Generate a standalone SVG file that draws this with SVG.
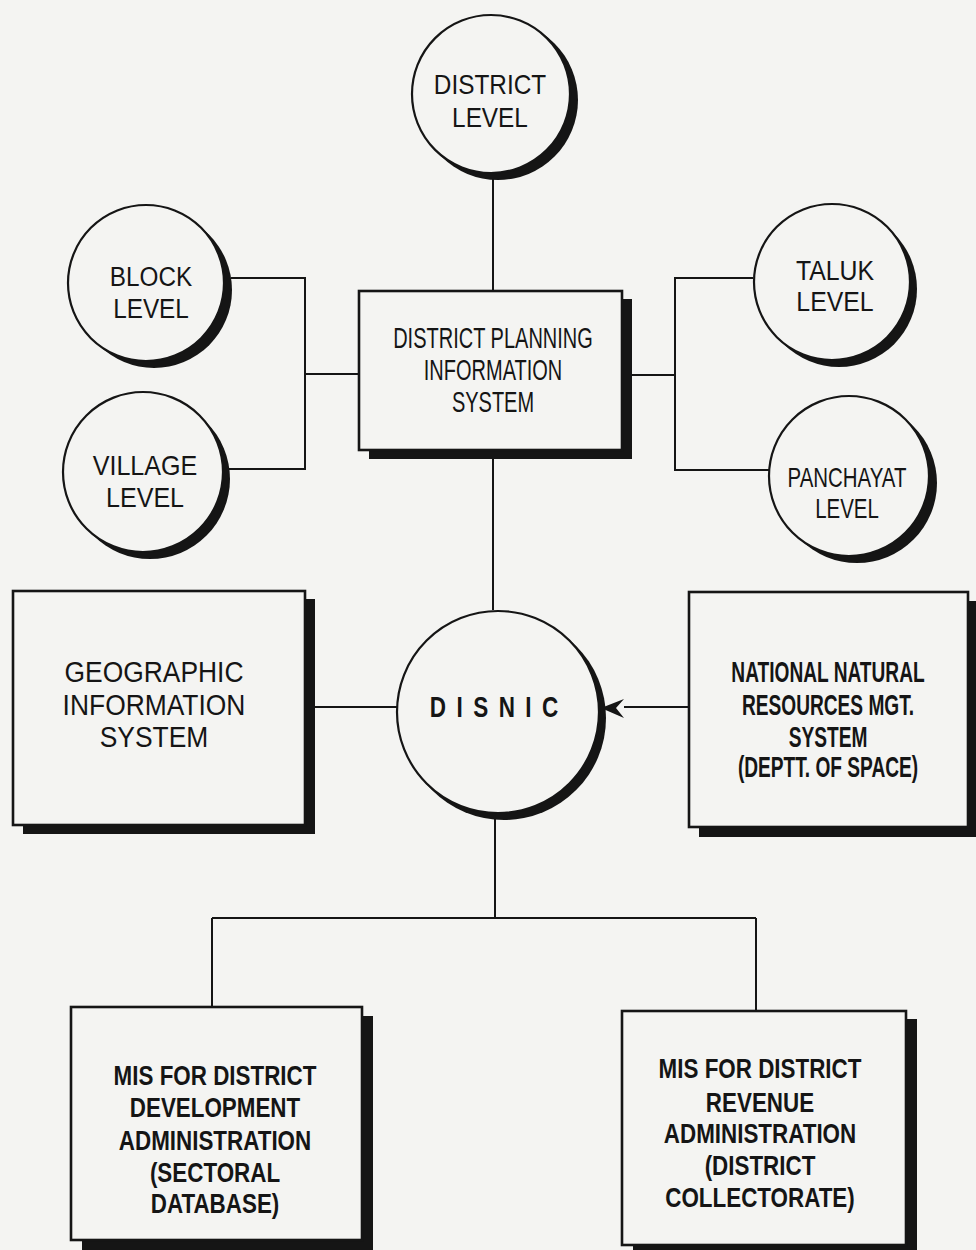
<svg xmlns="http://www.w3.org/2000/svg" width="976" height="1250" viewBox="0 0 976 1250">
<defs>
<style>
.bg{fill:#f4f4f2}
.ln{fill:none;stroke:#151515;stroke-width:2}
.sh{fill:#151515}
.nd{fill:#f4f4f2;stroke:#151515;stroke-width:2.2}
.bx{fill:#f4f4f2;stroke:#151515;stroke-width:2.6}
text{font-family:"Liberation Sans",Arial,sans-serif;fill:#151515;text-anchor:middle}
.r{font-weight:normal}
.b{font-weight:bold}
</style>
<marker id="barb" viewBox="0 0 26 22" refX="1" refY="11" markerWidth="26" markerHeight="22" markerUnits="userSpaceOnUse" orient="auto">
<path d="M24,11 L1,2 L9,11 L1,20 Z" fill="#151515" transform="rotate(180 12.5 11)"/>
</marker>
</defs>
<rect class="bg" x="0" y="0" width="976" height="1250"/>

<g id="connectors">
<path class="ln" d="M493,174 V291"/>
<path class="ln" d="M231,278 H305 V469 H229"/>
<path class="ln" d="M305,374 H359"/>
<path class="ln" d="M753,278 H675 V470 H770"/>
<path class="ln" d="M632,375 H675"/>
<path class="ln" d="M493,450 V610"/>
<path class="ln" d="M305,707 H397"/>
<path class="ln" d="M689,707 H624"/>
<path d="M601,708 L624,699 L616,708 L624,718 Z" fill="#151515"/>
<path class="ln" d="M495,815 V918"/>
<path class="ln" d="M212,918 H756"/>
<path class="ln" d="M212,918 V1007"/>
<path class="ln" d="M756,918 V1011"/>
</g>

<g id="district-level">
<circle class="sh" cx="498" cy="100" r="80"/>
<circle class="nd" cx="491" cy="94" r="79"/>
<g transform="translate(490,0) scale(0.87,1)"><text class="r" x="0" y="94" font-size="28">DISTRICT</text><text class="r" x="0" y="127" font-size="28">LEVEL</text></g>
</g>

<g id="block-level">
<circle class="sh" cx="154" cy="290" r="78"/>
<circle class="nd" cx="146" cy="283" r="78"/>
<g transform="translate(151,0) scale(0.9,1)"><text class="r" x="0" y="286" font-size="27">BLOCK</text><text class="r" x="0" y="318" font-size="27">LEVEL</text></g>
</g>

<g id="village-level">
<circle class="sh" cx="150" cy="479" r="80"/>
<circle class="nd" cx="143" cy="472" r="80"/>
<g transform="translate(145,0) scale(0.93,1)"><text class="r" x="0" y="475" font-size="27">VILLAGE</text><text class="r" x="0" y="507" font-size="27">LEVEL</text></g>
</g>

<g id="taluk-level">
<circle class="sh" cx="839" cy="289" r="78"/>
<circle class="nd" cx="832" cy="282" r="78"/>
<g transform="translate(835,0) scale(0.92,1)"><text class="r" x="0" y="280" font-size="27">TALUK</text><text class="r" x="0" y="311" font-size="27">LEVEL</text></g>
</g>

<g id="panchayat-level">
<circle class="sh" cx="857" cy="483" r="80"/>
<circle class="nd" cx="849" cy="476" r="80"/>
<g transform="translate(847,0) scale(0.73,1)"><text class="r" x="0" y="487" font-size="28">PANCHAYAT</text><text class="r" x="0" y="518" font-size="28">LEVEL</text></g>
</g>

<g id="dpis">
<rect class="sh" x="369" y="299" width="263" height="160"/>
<rect class="bx" x="359" y="291" width="263" height="159"/>
<g transform="translate(493,0) scale(0.69,1)"><text class="r" x="0" y="348" font-size="29">DISTRICT PLANNING</text><text class="r" x="0" y="380" font-size="29">INFORMATION</text><text class="r" x="0" y="412" font-size="29">SYSTEM</text></g>
</g>

<g id="disnic">
<circle class="sh" cx="504" cy="718" r="102"/>
<circle class="nd" cx="498" cy="712" r="101"/>
<g transform="translate(494,0) scale(0.75,1)"><text class="b" x="7" y="717" font-size="30" letter-spacing="14">DISNIC</text></g>
</g>

<g id="gis">
<rect class="sh" x="23" y="599" width="292" height="235"/>
<rect class="bx" x="13" y="591" width="292" height="234"/>
<g transform="translate(154,0) scale(0.88,1)"><text class="r" x="0" y="682" font-size="30">GEOGRAPHIC</text><text class="r" x="0" y="715" font-size="30">INFORMATION</text><text class="r" x="0" y="747" font-size="30">SYSTEM</text></g>
</g>

<g id="nnrms">
<rect class="sh" x="699" y="601" width="279" height="236"/>
<rect class="bx" x="689" y="592" width="279" height="235"/>
<g transform="translate(828,0) scale(0.66,1)"><text class="b" x="0" y="682" font-size="29">NATIONAL NATURAL</text><text class="b" x="0" y="715" font-size="29">RESOURCES MGT.</text><text class="b" x="0" y="747" font-size="29">SYSTEM</text><text class="b" x="0" y="777" font-size="29">(DEPTT. OF SPACE)</text></g>
</g>

<g id="mis-development">
<rect class="sh" x="82" y="1016" width="291" height="234"/>
<rect class="bx" x="71" y="1007" width="291" height="233"/>
<g transform="translate(215,0) scale(0.8,1)"><text class="b" x="0" y="1085" font-size="28">MIS FOR DISTRICT</text><text class="b" x="0" y="1117" font-size="28">DEVELOPMENT</text><text class="b" x="0" y="1150" font-size="28">ADMINISTRATION</text><text class="b" x="0" y="1182" font-size="28">(SECTORAL</text><text class="b" x="0" y="1213" font-size="28">DATABASE)</text></g>
</g>

<g id="mis-revenue">
<rect class="sh" x="633" y="1019" width="284" height="234"/>
<rect class="bx" x="622" y="1011" width="284" height="234"/>
<g transform="translate(760,0) scale(0.8,1)"><text class="b" x="0" y="1078" font-size="28">MIS FOR DISTRICT</text><text class="b" x="0" y="1112" font-size="28">REVENUE</text><text class="b" x="0" y="1143" font-size="28">ADMINISTRATION</text><text class="b" x="0" y="1175" font-size="28">(DISTRICT</text><text class="b" x="0" y="1207" font-size="28">COLLECTORATE)</text></g>
</g>
</svg>
